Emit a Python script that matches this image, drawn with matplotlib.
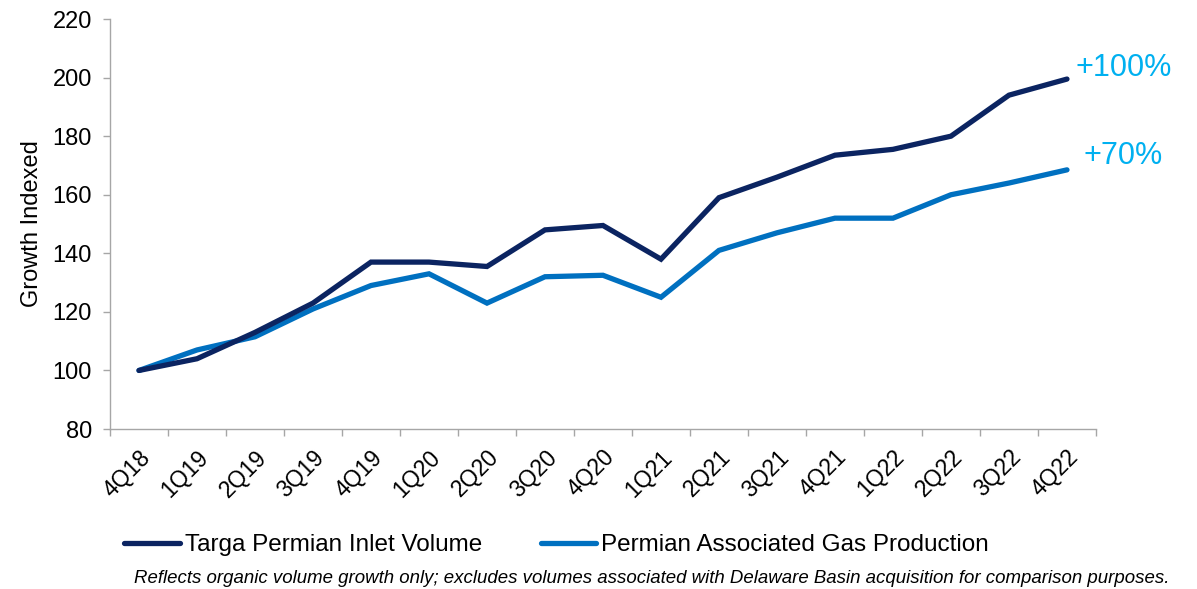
import numpy as np
import matplotlib
matplotlib.use("Agg")
import matplotlib.pyplot as plt

plt.rcParams['font.family'] = ['Liberation Sans', 'DejaVu Sans']

quarters = ["4Q18", "1Q19", "2Q19", "3Q19", "4Q19", "1Q20", "2Q20", "3Q20", "4Q20",
            "1Q21", "2Q21", "3Q21", "4Q21", "1Q22", "2Q22", "3Q22", "4Q22"]
targa = [100, 104, 113, 123, 137, 137, 135.5, 148, 149.5, 138, 159, 166, 173.5, 175.5, 180, 194, 199.5]
permian = [100, 107, 111.5, 121, 129, 133, 123, 132, 132.5, 125, 141, 147, 152, 152, 160, 164, 168.5]

navy = "#0b2461"
blue = "#0070c0"
cyan = "#00b0f0"
gray = "#a6a6a6"

fig = plt.figure(figsize=(11.97, 5.89), dpi=100)
ax = fig.add_axes([0.0919, 0.2716, 0.8237, 0.6961])

x = np.arange(len(quarters))
ax.plot(x, targa, color=navy, lw=3.8, solid_capstyle='round', solid_joinstyle='miter',
        label="Targa Permian Inlet Volume", zorder=3)
ax.plot(x, permian, color=blue, lw=3.8, solid_capstyle='round', solid_joinstyle='miter',
        label="Permian Associated Gas Production", zorder=2)

ax.set_xlim(-0.5, len(quarters) - 0.5)
ax.set_ylim(80, 220)
ax.set_yticks(range(80, 221, 20))
ax.set_xticks(x)
ax.set_xticklabels(quarters, rotation=45, ha='right', rotation_mode='anchor')
ax.set_xticks(np.arange(-0.5, len(quarters), 1), minor=True)
ax.tick_params(axis='x', which='major', length=0, pad=12, labelsize=16.5)
ax.tick_params(axis='x', which='minor', length=5, color=gray, width=1)
ax.tick_params(axis='y', length=5, color=gray, width=1, labelsize=17, pad=8)

for s in ['top', 'right']:
    ax.spines[s].set_visible(False)
for s in ['left', 'bottom']:
    ax.spines[s].set_color(gray)
    ax.spines[s].set_linewidth(1)

ax.set_ylabel("Growth Indexed", fontsize=17, labelpad=7)

ax.annotate("+100%", xy=(x[-1], targa[-1]), xytext=(6, 8), textcoords='offset points',
            color=cyan, fontsize=22, va='center', ha='left', annotation_clip=False)
ax.annotate("+70%", xy=(x[-1], permian[-1]), xytext=(12, 10), textcoords='offset points',
            color=cyan, fontsize=22, va='center', ha='left', annotation_clip=False)

leg = fig.legend(loc='center', bbox_to_anchor=(0.465, 0.074), ncol=2, frameon=False,
                 fontsize=17.5, handlelength=2.3, handletextpad=0.2, columnspacing=2.4)

fig.text(0.977, 0.011, "Reflects organic volume growth only; excludes volumes associated with "
         "Delaware Basin acquisition for comparison purposes.",
         ha='right', va='baseline', fontsize=13.4, style='italic')

fig.savefig("out.png", dpi=100)
